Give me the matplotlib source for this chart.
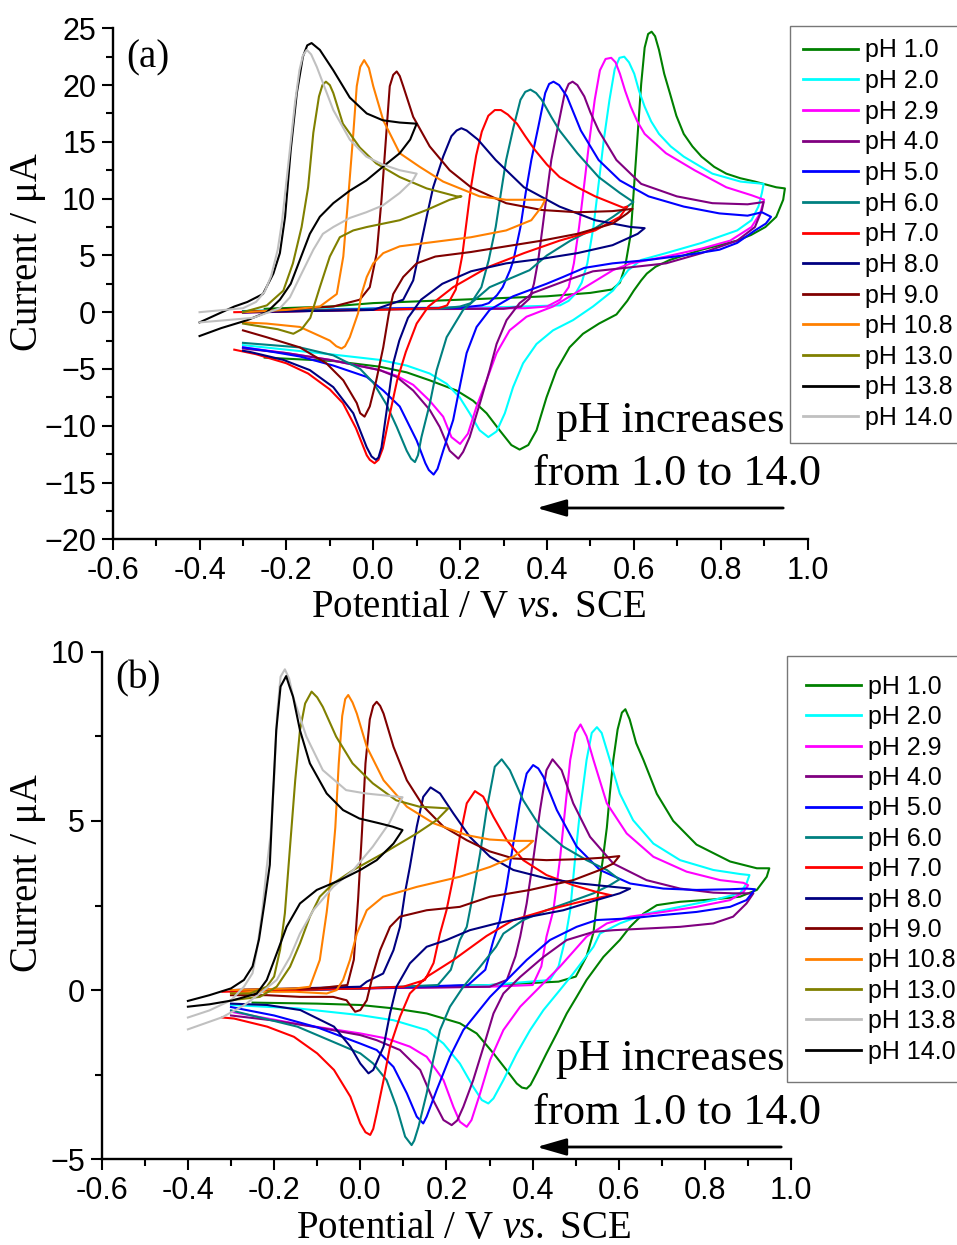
import matplotlib
matplotlib.use("Agg")
import matplotlib.pyplot as plt
from matplotlib.ticker import MultipleLocator

# ---------------- panel (a): (potential / V, current / uA) ----------------
A_PH1_0 = [(-0.25, 0.3), (-0.1, 0.5), (0.0, 0.8), (0.2, 1.1), (0.4, 1.4), (0.5, 1.7), (0.55, 2.0), (0.568, 2.6),
           (0.58, 4.0), (0.593, 6.9), (0.601, 11.3), (0.609, 15.7), (0.617, 20.1), (0.625, 23.3), (0.633, 24.5),
           (0.641, 24.7), (0.649, 24.3), (0.658, 23.1), (0.67, 21.0), (0.683, 19.3), (0.698, 17.3), (0.715, 15.7),
           (0.735, 14.6), (0.756, 13.7), (0.785, 12.8), (0.813, 12.2), (0.845, 11.8), (0.879, 11.5), (0.928, 11.0),
           (0.948, 10.9), (0.944, 9.9), (0.928, 8.4), (0.903, 7.5), (0.87, 6.8), (0.838, 6.3), (0.756, 5.5),
           (0.683, 4.6), (0.65, 4.0), (0.63, 3.4), (0.617, 2.8), (0.6, 1.9), (0.585, 1.0), (0.56, -0.2), (0.52, -1.0),
           (0.483, -1.9), (0.452, -3.1), (0.422, -5.1), (0.399, -7.5), (0.376, -10.4), (0.357, -11.7), (0.337, -12.1),
           (0.318, -11.7), (0.291, -10.4), (0.261, -8.9), (0.23, -7.8), (0.192, -6.9), (0.13, -6.0), (0.077, -5.3),
           (0.015, -4.8), (-0.092, -4.3), (-0.25, -4.0)]
A_PH2_0 = [(-0.3, 0.1), (0.0, 0.35), (0.3, 0.45), (0.43, 0.6), (0.45, 1.0), (0.465, 1.6), (0.48, 2.6), (0.493, 4.3),
           (0.507, 7.5), (0.519, 11.3), (0.531, 15.2), (0.544, 18.7), (0.556, 21.4), (0.567, 22.4), (0.578, 22.5),
           (0.589, 22.0), (0.601, 21.0), (0.612, 19.5), (0.625, 18.1), (0.64, 16.8), (0.658, 15.7), (0.685, 14.6),
           (0.715, 13.7), (0.781, 12.2), (0.846, 11.5), (0.899, 11.3), (0.895, 10.5), (0.887, 9.3), (0.871, 8.1),
           (0.838, 7.2), (0.756, 6.1), (0.674, 5.2), (0.617, 4.6), (0.587, 3.7), (0.552, 1.9), (0.506, 0.5),
           (0.46, -0.7), (0.414, -1.6), (0.376, -2.8), (0.345, -4.5), (0.322, -6.6), (0.303, -8.9), (0.284, -10.5),
           (0.265, -11.0), (0.245, -10.4), (0.222, -8.9), (0.199, -7.5), (0.169, -6.3), (0.13, -5.4), (0.077, -4.7),
           (0.015, -4.2), (-0.1, -3.7), (-0.2, -3.3), (-0.3, -2.9)]
A_PH2_9 = [(-0.3, 0.0), (0.0, 0.3), (0.35, 0.35), (0.4, 0.5), (0.43, 1.1), (0.45, 2.2), (0.462, 4.3), (0.474, 7.5),
           (0.486, 11.3), (0.498, 15.2), (0.51, 18.7), (0.522, 21.3), (0.535, 22.3), (0.548, 22.4), (0.558, 22.0),
           (0.568, 21.0), (0.58, 19.5), (0.593, 18.1), (0.608, 16.8), (0.625, 15.7), (0.674, 14.0), (0.74, 12.5),
           (0.813, 11.0), (0.871, 10.3), (0.9, 9.9), (0.891, 8.7), (0.871, 7.5), (0.822, 6.3), (0.756, 5.6),
           (0.674, 4.9), (0.593, 4.3), (0.552, 3.7), (0.475, 1.9), (0.414, 0.5), (0.353, -0.4), (0.314, -1.6),
           (0.284, -3.6), (0.261, -6.0), (0.238, -8.3), (0.218, -10.7), (0.2, -11.6), (0.18, -11.0), (0.161, -9.2),
           (0.13, -7.8), (0.092, -6.4), (0.054, -5.6), (0.015, -5.1), (-0.1, -4.2), (-0.2, -3.6), (-0.3, -3.1)]
A_PH4_0 = [(-0.3, -0.05), (0.0, 0.25), (0.3, 0.3), (0.34, 0.5), (0.36, 1.2), (0.37, 2.5), (0.38, 4.6), (0.39, 7.5),
           (0.4, 10.5), (0.41, 13.4), (0.425, 16.3), (0.441, 19.3), (0.45, 20.1), (0.459, 20.3), (0.47, 20.0),
           (0.486, 19.0), (0.5, 17.6), (0.519, 16.0), (0.56, 13.4), (0.617, 11.3), (0.699, 10.2), (0.781, 9.6),
           (0.862, 9.5), (0.899, 9.7), (0.895, 9.0), (0.879, 7.5), (0.838, 6.3), (0.756, 5.2), (0.674, 4.3),
           (0.58, 3.9), (0.506, 3.6), (0.445, 2.8), (0.368, 1.7), (0.337, 0.8), (0.307, -0.7), (0.284, -2.8),
           (0.268, -5.1), (0.245, -8.1), (0.222, -11.0), (0.207, -12.3), (0.196, -12.9), (0.176, -12.2),
           (0.153, -10.1), (0.13, -8.6), (0.092, -6.9), (0.054, -5.7), (0.015, -5.1), (-0.1, -4.2), (-0.2, -3.6),
           (-0.3, -3.2)]
A_PH5_0 = [(-0.3, 0.0), (0.0, 0.3), (0.2, 0.4), (0.25, 0.6), (0.266, 0.8), (0.285, 1.5), (0.298, 2.2), (0.315, 3.7),
           (0.323, 4.6), (0.339, 7.5), (0.351, 10.5), (0.364, 13.4), (0.38, 16.3), (0.396, 19.3), (0.405, 20.1),
           (0.415, 20.3), (0.428, 20.0), (0.446, 19.0), (0.462, 17.5), (0.478, 16.0), (0.519, 13.4), (0.568, 11.6),
           (0.634, 10.2), (0.715, 9.3), (0.797, 8.7), (0.862, 8.5), (0.895, 8.8), (0.916, 8.4), (0.904, 7.8),
           (0.879, 7.2), (0.838, 6.1), (0.797, 5.5), (0.715, 5.0), (0.634, 4.6), (0.551, 4.3), (0.486, 3.9),
           (0.437, 3.1), (0.399, 2.5), (0.322, 1.4), (0.268, 0.2), (0.238, -1.3), (0.215, -3.6), (0.199, -6.6),
           (0.184, -9.5), (0.161, -12.2), (0.148, -13.8), (0.139, -14.3), (0.128, -13.9), (0.12, -13.3),
           (0.1, -11.3), (0.061, -8.3), (0.023, -6.9), (-0.015, -5.7), (-0.092, -4.7), (-0.169, -3.9),
           (-0.246, -3.4), (-0.3, -3.1)]
A_PH6_0 = [(-0.3, 0.1), (0.0, 0.25), (0.15, 0.3), (0.2, 0.5), (0.225, 0.8), (0.249, 2.2), (0.266, 4.6), (0.282, 7.5),
           (0.294, 10.5), (0.306, 13.4), (0.323, 16.3), (0.339, 18.7), (0.35, 19.4), (0.362, 19.6), (0.375, 19.3),
           (0.388, 18.7), (0.41, 17.2), (0.429, 16.0), (0.47, 14.0), (0.519, 11.9), (0.568, 10.5), (0.599, 9.7),
           (0.585, 9.3), (0.552, 8.4), (0.511, 7.4), (0.454, 6.3), (0.4, 5.0), (0.36, 3.7), (0.268, 2.2),
           (0.207, 0.2), (0.169, -2.2), (0.146, -5.1), (0.13, -8.1), (0.111, -11.0), (0.103, -12.6), (0.096, -13.2),
           (0.087, -12.9), (0.077, -12.2), (0.054, -10.1), (0.03, -8.1), (0.0, -6.2), (-0.03, -5.0), (-0.092, -3.8),
           (-0.169, -3.1), (-0.3, -2.7)]
A_PH7_0 = [(-0.32, 0.0), (0.0, 0.2), (0.15, 0.35), (0.17, 0.6), (0.19, 2.0), (0.205, 5.0), (0.215, 8.0), (0.225, 11.0),
           (0.237, 13.8), (0.25, 15.9), (0.265, 17.3), (0.28, 17.8), (0.294, 17.8), (0.31, 17.4), (0.331, 16.6),
           (0.35, 15.5), (0.372, 14.3), (0.4, 13.0), (0.429, 11.9), (0.47, 11.0), (0.511, 10.2), (0.576, 9.2),
           (0.585, 9.3), (0.568, 8.4), (0.511, 7.2), (0.429, 6.3), (0.347, 5.2), (0.266, 4.0), (0.184, 2.2),
           (0.127, 0.5), (0.1, -1.0), (0.075, -3.5), (0.055, -6.0), (0.038, -9.0), (0.022, -12.0), (0.012, -13.0),
           (0.003, -13.3), (-0.008, -13.0), (-0.015, -12.6), (-0.04, -10.2), (-0.07, -8.0), (-0.1, -6.8),
           (-0.15, -5.4), (-0.2, -4.5), (-0.27, -3.7), (-0.32, -3.3)]
A_PH8_0 = [(-0.3, 0.0), (0.0, 0.2), (0.023, 0.5), (0.069, 1.1), (0.092, 2.8), (0.107, 5.5), (0.123, 8.4), (0.138, 11.0),
           (0.161, 13.7), (0.18, 15.5), (0.192, 16.0), (0.203, 16.2), (0.215, 16.0), (0.241, 15.2), (0.282, 13.4),
           (0.347, 11.0), (0.429, 9.3), (0.511, 8.1), (0.593, 7.5), (0.625, 7.4), (0.609, 6.9), (0.551, 5.9),
           (0.47, 5.2), (0.388, 4.7), (0.306, 4.3), (0.225, 3.6), (0.159, 2.5), (0.11, 1.1), (0.08, -0.5),
           (0.06, -2.5), (0.046, -4.5), (0.03, -8.9), (0.019, -11.9), (0.012, -12.8), (0.006, -13.0),
           (-0.004, -12.7), (-0.015, -11.9), (-0.046, -8.9), (-0.092, -6.6), (-0.146, -5.1), (-0.207, -4.2),
           (-0.284, -3.5), (-0.3, -3.4)]
A_PH9_0 = [(-0.3, 0.0), (-0.092, 0.5), (-0.031, 1.1), (-0.008, 2.2), (0.008, 5.2), (0.019, 9.9), (0.03, 15.7),
           (0.038, 19.9), (0.046, 20.9), (0.054, 21.2), (0.061, 20.8), (0.069, 19.9), (0.092, 17.2), (0.13, 14.6),
           (0.176, 12.5), (0.225, 11.0), (0.306, 9.6), (0.388, 9.0), (0.47, 8.8), (0.551, 8.9), (0.597, 9.1),
           (0.585, 8.7), (0.551, 7.8), (0.47, 6.9), (0.388, 6.3), (0.306, 5.8), (0.225, 5.3), (0.143, 4.9),
           (0.1, 4.3), (0.069, 3.1), (0.046, 1.6), (0.036, -0.1), (0.023, -3.1), (0.007, -6.0), (-0.008, -8.3),
           (-0.02, -9.2), (-0.03, -8.9), (-0.038, -8.0), (-0.069, -6.0), (-0.108, -4.5), (-0.169, -3.1),
           (-0.246, -2.2), (-0.3, -1.6)]
A_PH10_8 = [(-0.3, 0.0), (-0.2, 0.2), (-0.123, 0.5), (-0.084, 1.6), (-0.069, 4.9), (-0.058, 9.9), (-0.046, 15.7),
            (-0.038, 19.9), (-0.03, 21.6), (-0.021, 22.2), (-0.01, 21.5), (0.0, 19.9), (0.023, 16.9), (0.061, 14.0),
            (0.107, 12.8), (0.161, 11.5), (0.245, 10.2), (0.306, 9.9), (0.396, 9.9), (0.388, 9.3), (0.364, 8.1),
            (0.306, 7.2), (0.225, 6.6), (0.143, 6.2), (0.061, 5.8), (0.023, 5.2), (0.0, 4.3), (-0.015, 3.1),
            (-0.027, 1.6), (-0.035, -0.1), (-0.054, -2.2), (-0.065, -3.0), (-0.073, -3.2), (-0.085, -3.0),
            (-0.1, -2.5), (-0.169, -1.3), (-0.246, -1.0), (-0.3, -0.9)]
A_PH13_0 = [(-0.3, 0.0), (-0.245, 0.6), (-0.207, 1.9), (-0.185, 4.3), (-0.165, 7.5), (-0.15, 11.0), (-0.138, 15.8),
            (-0.125, 19.0), (-0.117, 20.0), (-0.109, 20.3), (-0.1, 20.0), (-0.092, 19.3), (-0.07, 16.6),
            (-0.031, 14.5), (0.007, 13.1), (0.061, 11.9), (0.123, 10.9), (0.192, 10.2), (0.203, 10.2), (0.176, 9.9),
            (0.123, 9.0), (0.061, 8.1), (-0.015, 7.5), (-0.046, 7.2), (-0.077, 6.6), (-0.1, 4.9), (-0.123, 2.2),
            (-0.145, -0.5), (-0.165, -1.5), (-0.184, -1.9), (-0.22, -1.5), (-0.3, -1.0)]
A_PH13_8 = [(-0.4, -0.9), (-0.32, 0.5), (-0.29, 0.9), (-0.254, 1.6), (-0.23, 3.4), (-0.215, 5.2), (-0.203, 8.4),
            (-0.19, 14.3), (-0.176, 19.3), (-0.162, 22.5), (-0.152, 23.5), (-0.142, 23.7), (-0.123, 23.1),
            (-0.092, 21.3), (-0.054, 18.9), (-0.015, 17.5), (0.022, 16.9), (0.061, 16.7), (0.1, 16.6), (0.085, 15.2),
            (0.061, 14.0), (0.022, 12.8), (-0.016, 11.6), (-0.054, 10.7), (-0.092, 9.6), (-0.123, 8.4),
            (-0.146, 6.9), (-0.169, 4.6), (-0.19, 2.5), (-0.215, 1.1), (-0.245, 0.0), (-0.29, -0.7), (-0.35, -1.4),
            (-0.4, -2.1)]
A_PH14_0 = [(-0.4, 0.0), (-0.3, 0.35), (-0.27, 0.9), (-0.25, 1.8), (-0.235, 3.2), (-0.22, 5.5), (-0.21, 8.0),
            (-0.2, 11.5), (-0.19, 15.0), (-0.18, 18.5), (-0.17, 21.3), (-0.162, 22.6), (-0.153, 23.1),
            (-0.143, 22.7), (-0.13, 21.6), (-0.092, 17.8), (-0.054, 15.2), (-0.016, 13.7), (0.022, 13.0),
            (0.061, 12.5), (0.1, 12.2), (0.091, 11.6), (0.061, 10.5), (0.022, 9.4), (-0.016, 8.8), (-0.054, 8.3),
            (-0.092, 7.5), (-0.116, 6.9), (-0.138, 5.5), (-0.169, 3.1), (-0.192, 1.3), (-0.215, 0.35),
            (-0.277, -0.5), (-0.4, -0.9)]

# ---------------- panel (b) ----------------
B_PH1_0 = [(-0.25, 0.0), (0.0, 0.05), (0.3, 0.15), (0.46, 0.25), (0.5, 0.4), (0.525, 1.0), (0.541, 1.7), (0.552, 2.9),
           (0.562, 3.8), (0.572, 4.8), (0.579, 5.8), (0.587, 6.8), (0.597, 7.7), (0.607, 8.2), (0.615, 8.3),
           (0.625, 8.0), (0.64, 7.3), (0.657, 6.8), (0.688, 5.8), (0.726, 5.0), (0.78, 4.3), (0.858, 3.8),
           (0.92, 3.6), (0.949, 3.6), (0.943, 3.35), (0.92, 2.96), (0.881, 2.76), (0.819, 2.68), (0.742, 2.61),
           (0.688, 2.51), (0.657, 2.26), (0.626, 1.87), (0.602, 1.48), (0.564, 0.98), (0.525, 0.3), (0.502, -0.2),
           (0.479, -0.69), (0.456, -1.28), (0.432, -1.87), (0.409, -2.46), (0.395, -2.8), (0.386, -2.91),
           (0.375, -2.88), (0.363, -2.76), (0.339, -2.36), (0.309, -1.87), (0.27, -1.28), (0.231, -0.98),
           (0.154, -0.69), (0.077, -0.54), (0.0, -0.44), (-0.1, -0.4), (-0.25, -0.37)]
B_PH2_0 = [(-0.3, -0.05), (0.0, 0.05), (0.3, 0.15), (0.44, 0.3), (0.46, 0.7), (0.475, 1.48), (0.487, 2.36),
           (0.498, 3.84), (0.51, 5.32), (0.525, 6.8), (0.537, 7.6), (0.549, 7.77), (0.56, 7.6), (0.579, 6.8),
           (0.602, 5.81), (0.633, 5.02), (0.68, 4.33), (0.742, 3.84), (0.819, 3.55), (0.881, 3.43), (0.903, 3.4),
           (0.896, 3.15), (0.881, 2.86), (0.819, 2.66), (0.742, 2.46), (0.664, 2.26), (0.602, 1.97), (0.556, 1.67),
           (0.541, 1.28), (0.494, 0.49), (0.463, 0.0), (0.425, -0.59), (0.394, -1.18), (0.363, -1.87),
           (0.332, -2.66), (0.309, -3.2), (0.297, -3.35), (0.282, -3.25), (0.262, -2.86), (0.231, -2.17),
           (0.193, -1.58), (0.154, -1.18), (0.077, -0.89), (0.0, -0.74), (-0.146, -0.54), (-0.3, -0.44)]
B_PH2_9 = [(-0.3, -0.05), (0.0, 0.05), (0.3, 0.1), (0.4, 0.15), (0.42, 0.7), (0.432, 1.58), (0.448, 2.36),
           (0.463, 3.84), (0.475, 5.32), (0.487, 6.8), (0.499, 7.6), (0.511, 7.85), (0.525, 7.5), (0.541, 6.8),
           (0.572, 5.52), (0.618, 4.63), (0.68, 3.94), (0.757, 3.5), (0.835, 3.25), (0.889, 3.17), (0.9, 3.1),
           (0.889, 2.9), (0.858, 2.66), (0.78, 2.46), (0.703, 2.31), (0.626, 2.17), (0.572, 1.97), (0.525, 1.58),
           (0.463, 0.69), (0.417, 0.1), (0.371, -0.49), (0.332, -1.18), (0.301, -2.07), (0.278, -3.05),
           (0.258, -3.84), (0.247, -4.04), (0.231, -3.89), (0.216, -3.45), (0.193, -2.66), (0.154, -1.97),
           (0.115, -1.67), (0.061, -1.43), (0.0, -1.28), (-0.146, -1.0), (-0.3, -0.64)]
B_PH4_0 = [(-0.3, -0.05), (0.0, 0.05), (0.3, 0.1), (0.34, 0.3), (0.36, 1.0), (0.371, 1.58), (0.386, 2.56),
           (0.401, 3.84), (0.417, 5.32), (0.432, 6.5), (0.446, 6.82), (0.467, 6.5), (0.494, 5.52), (0.533, 4.53),
           (0.587, 3.74), (0.664, 3.25), (0.742, 3.0), (0.819, 2.88), (0.865, 2.86), (0.912, 2.86), (0.896, 2.56),
           (0.865, 2.17), (0.819, 1.97), (0.742, 1.87), (0.664, 1.82), (0.587, 1.77), (0.541, 1.72), (0.479, 1.48),
           (0.425, 0.98), (0.371, 0.39), (0.332, -0.1), (0.309, -0.69), (0.286, -1.67), (0.262, -2.66),
           (0.239, -3.45), (0.225, -3.85), (0.212, -3.99), (0.193, -3.84), (0.169, -3.25), (0.139, -2.36),
           (0.092, -1.77), (0.038, -1.48), (0.0, -1.33), (-0.1, -1.1), (-0.2, -0.9), (-0.3, -0.75)]
B_PH5_0 = [(-0.3, -0.05), (0.0, 0.05), (0.25, 0.15), (0.29, 0.6), (0.309, 1.48), (0.324, 2.07), (0.339, 3.05),
           (0.355, 4.33), (0.37, 5.5), (0.386, 6.4), (0.401, 6.65), (0.413, 6.55), (0.425, 6.3), (0.456, 5.32),
           (0.502, 4.24), (0.556, 3.55), (0.626, 3.15), (0.703, 3.0), (0.78, 2.96), (0.858, 2.98), (0.896, 3.0),
           (0.916, 2.98), (0.896, 2.66), (0.858, 2.46), (0.78, 2.31), (0.703, 2.22), (0.626, 2.12), (0.548, 2.07),
           (0.502, 1.87), (0.44, 1.48), (0.386, 0.89), (0.34, 0.3), (0.301, -0.2), (0.27, -0.69), (0.239, -1.18),
           (0.208, -1.97), (0.177, -2.96), (0.154, -3.74), (0.146, -3.94), (0.131, -3.74), (0.108, -3.05),
           (0.077, -2.27), (0.038, -1.77), (0.0, -1.58), (-0.1, -1.1), (-0.2, -0.75), (-0.3, -0.5)]
B_PH6_0 = [(-0.3, -0.05), (0.0, 0.05), (0.18, 0.15), (0.21, 0.6), (0.231, 1.48), (0.247, 1.87), (0.262, 2.86),
           (0.278, 4.04), (0.293, 5.32), (0.312, 6.6), (0.328, 6.82), (0.347, 6.5), (0.378, 5.61), (0.417, 4.83),
           (0.471, 4.24), (0.525, 3.84), (0.572, 3.55), (0.601, 3.27), (0.579, 3.1), (0.541, 2.86), (0.487, 2.61),
           (0.432, 2.36), (0.378, 2.07), (0.332, 1.67), (0.315, 1.28), (0.278, 0.69), (0.239, 0.1), (0.208, -0.49),
           (0.185, -1.18), (0.169, -2.07), (0.154, -3.05), (0.135, -4.04), (0.125, -4.45), (0.119, -4.58),
           (0.104, -4.33), (0.084, -3.45), (0.061, -2.66), (0.03, -2.17), (0.0, -1.87), (-0.146, -1.08),
           (-0.3, -0.6)]
B_PH7_0 = [(-0.32, -0.05), (0.0, 0.05), (0.1, 0.1), (0.15, 0.3), (0.17, 0.8), (0.185, 1.67), (0.2, 2.36),
           (0.216, 3.35), (0.231, 4.53), (0.247, 5.52), (0.266, 5.88), (0.285, 5.72), (0.309, 5.12), (0.34, 4.43),
           (0.378, 3.84), (0.432, 3.4), (0.494, 3.1), (0.548, 2.9), (0.583, 2.8), (0.564, 2.76), (0.51, 2.61),
           (0.432, 2.36), (0.355, 2.07), (0.293, 1.6), (0.216, 0.89), (0.154, 0.39), (0.115, -0.1), (0.092, -0.79),
           (0.069, -1.67), (0.054, -2.66), (0.038, -3.64), (0.03, -4.1), (0.023, -4.28), (0.012, -4.2),
           (0.0, -3.94), (-0.023, -3.15), (-0.061, -2.36), (-0.1, -1.87), (-0.154, -1.38), (-0.216, -1.08),
           (-0.293, -0.84), (-0.32, -0.81)]
B_PH8_0 = [(-0.3, 0.0), (0.0, 0.1), (0.015, 0.25), (0.053, 0.49), (0.077, 1.18), (0.092, 1.87), (0.104, 2.9),
           (0.115, 3.64), (0.131, 4.83), (0.146, 5.71), (0.163, 5.99), (0.185, 5.81), (0.216, 5.22), (0.254, 4.53),
           (0.301, 3.94), (0.355, 3.55), (0.432, 3.3), (0.51, 3.15), (0.587, 3.05), (0.626, 3.0), (0.602, 2.86),
           (0.548, 2.66), (0.471, 2.36), (0.394, 2.17), (0.316, 1.97), (0.254, 1.77), (0.2, 1.48), (0.154, 1.28),
           (0.115, 0.79), (0.084, 0.1), (0.069, -0.69), (0.054, -1.67), (0.03, -2.36), (0.019, -2.46),
           (0.0, -2.17), (-0.023, -1.67), (-0.061, -1.08), (-0.139, -0.59), (-0.216, -0.44), (-0.3, -0.4)]
B_PH9_0 = [(-0.3, 0.0), (-0.1, 0.05), (-0.03, 0.15), (-0.015, 0.9), (-0.005, 2.7), (0.004, 4.7), (0.012, 6.7),
           (0.022, 8.0), (0.03, 8.4), (0.038, 8.52), (0.046, 8.4), (0.054, 8.17), (0.077, 7.19), (0.108, 6.2),
           (0.147, 5.42), (0.193, 4.83), (0.247, 4.43), (0.3, 4.1), (0.355, 3.89), (0.432, 3.84), (0.51, 3.87),
           (0.572, 3.92), (0.601, 3.96), (0.587, 3.74), (0.556, 3.55), (0.494, 3.25), (0.394, 2.96), (0.301, 2.76),
           (0.231, 2.46), (0.154, 2.36), (0.092, 2.17), (0.069, 1.87), (0.046, 1.18), (0.03, 0.49), (0.015, -0.3),
           (0.0, -0.59), (-0.012, -0.64), (-0.032, -0.3), (-0.063, -0.2), (-0.14, -0.2), (-0.217, -0.15),
           (-0.3, -0.15)]
B_PH10_8 = [(-0.3, 0.0), (-0.15, 0.05), (-0.117, 0.1), (-0.094, 0.89), (-0.078, 2.3), (-0.066, 3.6), (-0.058, 4.8),
            (-0.05, 6.7), (-0.042, 8.1), (-0.035, 8.6), (-0.028, 8.72), (-0.018, 8.5), (-0.008, 8.17), (0.015, 7.19),
            (0.054, 6.2), (0.108, 5.42), (0.17, 4.93), (0.247, 4.58), (0.3, 4.45), (0.355, 4.41), (0.401, 4.41),
            (0.386, 4.23), (0.355, 3.94), (0.301, 3.64), (0.231, 3.35), (0.131, 3.05), (0.053, 2.76), (0.015, 2.36),
            (-0.008, 1.67), (-0.024, 0.89), (-0.04, 0.3), (-0.055, 0.0), (-0.078, -0.1), (-0.15, -0.05),
            (-0.25, -0.05), (-0.3, -0.1)]
B_PH13_0 = [(-0.3, -0.1), (-0.256, -0.1), (-0.217, 0.1), (-0.2, 0.4), (-0.186, 1.2), (-0.175, 2.27), (-0.163, 4.24),
            (-0.151, 6.2), (-0.14, 7.68), (-0.128, 8.47), (-0.113, 8.82), (-0.1, 8.65), (-0.087, 8.37),
            (-0.056, 7.49), (-0.018, 6.7), (0.029, 6.11), (0.083, 5.61), (0.137, 5.42), (0.204, 5.37),
            (0.177, 5.02), (0.131, 4.63), (0.053, 4.04), (-0.016, 3.55), (-0.063, 3.15), (-0.094, 2.76),
            (-0.117, 2.17), (-0.14, 1.38), (-0.163, 0.69), (-0.194, 0.1), (-0.233, -0.2), (-0.3, -0.3)]
B_PH13_8 = [(-0.4, -0.81), (-0.35, -0.6), (-0.3, -0.3), (-0.27, 0.1), (-0.25, 0.5), (-0.24, 1.18), (-0.228, 2.27),
            (-0.217, 3.64), (-0.208, 4.6), (-0.2, 6.2), (-0.193, 8.17), (-0.185, 9.26), (-0.175, 9.48),
            (-0.165, 9.2), (-0.156, 8.67), (-0.125, 7.49), (-0.087, 6.5), (-0.033, 5.91), (0.013, 5.81),
            (0.067, 5.74), (0.098, 5.7), (0.09, 5.52), (0.067, 4.93), (0.029, 4.24), (-0.016, 3.55),
            (-0.063, 3.05), (-0.109, 2.36), (-0.14, 1.67), (-0.163, 0.98), (-0.194, 0.3), (-0.233, -0.1),
            (-0.27, -0.45), (-0.32, -0.8), (-0.4, -1.16)]
B_PH14_0 = [(-0.4, -0.32), (-0.35, -0.15), (-0.3, 0.05), (-0.27, 0.3), (-0.25, 0.7), (-0.235, 1.5), (-0.222, 2.6),
            (-0.21, 3.7), (-0.203, 5.65), (-0.195, 7.68), (-0.185, 8.97), (-0.172, 9.28), (-0.165, 9.0),
            (-0.156, 8.67), (-0.14, 7.68), (-0.117, 6.7), (-0.078, 5.81), (-0.04, 5.32), (-0.002, 5.07),
            (0.044, 4.93), (0.075, 4.83), (0.098, 4.73), (0.077, 4.33), (0.038, 3.84), (0.0, 3.55), (-0.047, 3.25),
            (-0.101, 2.96), (-0.14, 2.56), (-0.171, 1.87), (-0.194, 1.08), (-0.217, 0.3), (-0.24, -0.1),
            (-0.295, -0.3), (-0.35, -0.42), (-0.4, -0.49)]

PH_LABELS = ["pH 1.0", "pH 2.0", "pH 2.9", "pH 4.0", "pH 5.0", "pH 6.0", "pH 7.0",
             "pH 8.0", "pH 9.0", "pH 10.8", "pH 13.0", "pH 13.8", "pH 14.0"]
A_COLORS = ["#008000", "#00FFFF", "#FF00FF", "#800080", "#0000FF", "#008080", "#FF0000",
            "#000080", "#800000", "#FF8000", "#808000", "#000000", "#C0C0C0"]
B_COLORS = A_COLORS[:11] + ["#C0C0C0", "#000000"]
A_CURVES = [A_PH1_0, A_PH2_0, A_PH2_9, A_PH4_0, A_PH5_0, A_PH6_0, A_PH7_0,
            A_PH8_0, A_PH9_0, A_PH10_8, A_PH13_0, A_PH13_8, A_PH14_0]
B_CURVES = [B_PH1_0, B_PH2_0, B_PH2_9, B_PH4_0, B_PH5_0, B_PH6_0, B_PH7_0,
            B_PH8_0, B_PH9_0, B_PH10_8, B_PH13_0, B_PH13_8, B_PH14_0]

W, H = 957, 1245
plt.rcParams["font.family"] = ["Liberation Sans", "DejaVu Sans"]
plt.rcParams["mathtext.fontset"] = "custom"
plt.rcParams["mathtext.rm"] = "Liberation Serif"
plt.rcParams["mathtext.it"] = "Liberation Serif:italic"
SERIF = ["Liberation Serif", "DejaVu Serif"]


def fx(px):
    return px / W


def fy(py):
    return 1 - py / H


def style_axes(ax, ylim, ymaj):
    ax.set_xlim(-0.6, 1.0)
    ax.set_ylim(*ylim)
    for s in ["top", "right"]:
        ax.spines[s].set_visible(False)
    for s in ["left", "bottom"]:
        ax.spines[s].set_linewidth(1.7)
    ax.xaxis.set_major_locator(MultipleLocator(0.2))
    ax.xaxis.set_minor_locator(MultipleLocator(0.1))
    ax.yaxis.set_major_locator(MultipleLocator(ymaj))
    ax.yaxis.set_minor_locator(MultipleLocator(ymaj / 2))
    ax.xaxis.set_major_formatter(plt.FuncFormatter(lambda v, p: f"{v:.1f}"))
    ax.tick_params(which="major", direction="out", length=8, width=1.5, labelsize=22, pad=4)
    ax.tick_params(which="minor", direction="out", length=5, width=1.5)


def draw_panel(ax, curves, colors):
    for pts, col, lab in zip(curves, colors, PH_LABELS):
        xs = [p[0] for p in pts]
        ys = [p[1] for p in pts]
        ax.plot(xs, ys, color=col, lw=1.5, label=lab, solid_joinstyle="round")


fig = plt.figure(figsize=(W / 100, H / 100), dpi=100)

ax_a = fig.add_axes([fx(112.7), fy(539.3), (807.5 - 112.7) / W, (539.3 - 28.3) / H])
draw_panel(ax_a, A_CURVES, A_COLORS)
style_axes(ax_a, (-20, 25), 5)

ax_b = fig.add_axes([fx(101.7), fy(1159.3), (791.3 - 101.7) / W, (1159.3 - 651.7) / H])
draw_panel(ax_b, B_CURVES, B_COLORS)
style_axes(ax_b, (-5, 10), 5)

for ax, left, top, lsp, bpad in [(ax_a, 790, 26, 0.265, 0.5), (ax_b, 787, 656, 0.256, 0.75)]:
    leg = ax.legend(loc="upper left", bbox_to_anchor=(fx(left), fy(top)), bbox_transform=fig.transFigure,
                    fontsize=18, frameon=True, fancybox=False, borderaxespad=0, handlelength=2.2,
                    handletextpad=0.3, labelspacing=lsp, borderpad=bpad)
    leg.get_frame().set_edgecolor("#555555")
    leg.get_frame().set_linewidth(1.0)
    for h in leg.get_lines():
        h.set_linewidth(2.0)

# axis titles
fig.text(fx(28), fy(252), "Current / μA", rotation=90, ha="center", va="center", fontsize=28, family=SERIF)
fig.text(fx(28), fy(873), "Current / μA", rotation=90, ha="center", va="center", fontsize=28, family=SERIF)
fig.text(fx(478), fy(617), r"Potential / V $\mathit{vs.}$ SCE", ha="center", va="baseline", fontsize=28,
         family=SERIF)
fig.text(fx(463), fy(1238), r"Potential / V $\mathit{vs.}$ SCE", ha="center", va="baseline", fontsize=28,
         family=SERIF)

# panel letters
fig.text(fx(148), fy(58), "(a)", ha="center", va="center", fontsize=28, family=SERIF)
fig.text(fx(138), fy(679), "(b)", ha="center", va="center", fontsize=28, family=SERIF)

# pH trend annotation
for y1, y2, ya, xr in [(432, 485, 508, 786), (1070, 1124, 1147, 784)]:
    fig.text(fx(670), fy(y1), "pH increases", ha="center", va="baseline", fontsize=32, family=SERIF)
    fig.text(fx(677), fy(y2), "from 1.0 to 14.0", ha="center", va="baseline", fontsize=32, family=SERIF)
    fig.add_artist(matplotlib.patches.FancyArrowPatch(
        (fx(xr), fy(ya)), (fx(534), fy(ya)), transform=fig.transFigure,
        arrowstyle="-|>,head_length=0.9,head_width=0.26", mutation_scale=20, lw=2.0, color="black"))

fig.savefig("out.png", dpi=100)
